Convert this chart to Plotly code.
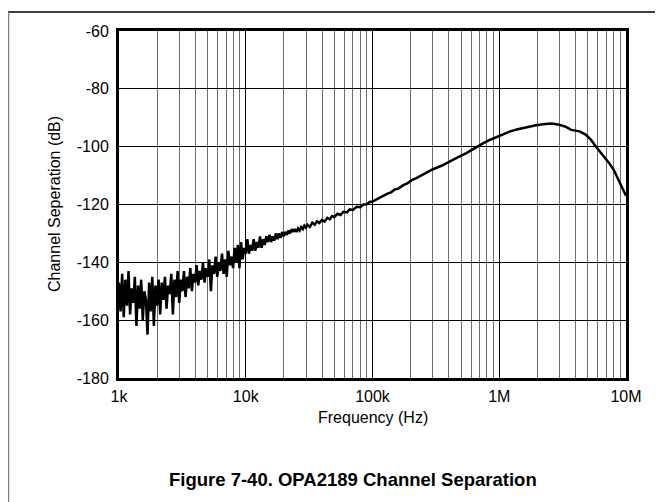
import plotly.graph_objects as go

# Channel separation vs frequency
freq_hz = [
    1000, 1029, 1059, 1090, 1122, 1155, 1189, 1223, 1259, 1296,
    1334, 1372, 1413, 1454, 1496, 1540, 1585, 1631, 1679, 1728,
    1778, 1830, 1884, 1939, 1995, 2054, 2113, 2175, 2239, 2304,
    2371, 2441, 2512, 2585, 2661, 2738, 2818, 2901, 2985, 3073,
    3162, 3255, 3350, 3447, 3548, 3652, 3758, 3868, 3981, 4097,
    4217, 4340, 4467, 4597, 4732, 4870, 5012, 5158, 5309, 5464,
    5623, 5788, 5957, 6131, 6310, 6494, 6683, 6879, 7079, 7286,
    7499, 7718, 7943, 8175, 8414, 8660, 8913, 9173, 9441, 9716,
    10000, 10292, 10593, 10902, 11220, 11548, 11885, 12232, 12589, 12957,
    13335, 13725, 14125, 14538, 14962, 15399, 15849, 16312, 16788, 17278,
    17783, 18302, 18836, 19387, 19953, 20535, 21135, 21752, 22387, 23041,
    23714, 24406, 25119, 25852, 26607, 27384, 28184, 29007, 29854, 30726,
    32000, 33500, 35000, 36500, 38000, 40000, 42000, 44000, 46000, 48000,
    50000, 53000, 56000, 59000, 63000, 66000, 70000, 75000, 80000, 85000,
    90000, 95000, 100000, 110000, 120000, 130000, 140000, 150000, 160000, 175000,
    190000, 205000, 220000, 260000, 300000, 350000, 400000, 470000,
    550000, 650000, 750000, 850000, 960000, 1100000, 1220000, 1400000, 1600000, 1950000,
    2300000, 2600000, 2900000, 3300000, 3700000, 4000000, 4300000, 4800000, 5300000, 5700000,
    6200000, 6800000, 7400000, 8000000, 8700000, 9300000, 10000000,
]
sep_db = [
    -147, -157, -144, -159, -146, -155, -143, -158, -149, -154,
    -145, -162, -148, -156, -146, -160, -150, -153, -165, -147,
    -157, -145, -162, -148, -155, -146, -158, -147, -153, -145,
    -156, -148, -151, -144, -158, -146, -152, -143, -154, -146,
    -150, -143, -152, -145, -149, -142, -150, -144, -147, -141,
    -148, -143, -146, -140, -147, -142, -145, -139, -150, -141,
    -144, -138, -145, -140, -143, -137, -144, -139, -145, -136,
    -141, -138, -142, -135, -140, -134, -142, -133, -139, -135,
    -137, -132, -137, -134, -136, -132, -136, -133, -135, -131,
    -135, -132, -134, -131, -133, -130.5, -133, -131, -132.5, -130,
    -132, -130, -131.5, -129.5, -131, -129.5, -130.5, -129, -130, -128.5,
    -129.5, -128.5, -129.5, -128.3, -129, -127.8, -128.5, -127.3, -128, -127,
    -127.8, -126.3, -127, -125.8, -126.4, -125.3, -125.9, -124.6, -125.1, -124,
    -124.4, -123.2, -123.6, -122.5, -122.7, -121.7, -121.9, -120.8, -120.9, -120,
    -119.9, -119.1, -119, -118, -117.3, -116.3, -115.8, -114.8, -114.5, -113.3,
    -112.6, -111.5, -111, -109.2, -107.8, -106.6, -105.4, -103.7,
    -102.2, -100.3, -98.8, -97.6, -96.6, -95.5, -94.7, -94, -93.4, -92.6,
    -92.2, -92, -92.3, -93, -94.2, -94.5, -94.7, -95.8, -97.6, -99.6,
    -101.5, -103.6, -105.8, -108, -111.5, -114, -117,
]

x_ticks = [1e3, 1e4, 1e5, 1e6, 1e7]
x_labels = ["1k", "10k", "100k", "1M", "10M"]
y_ticks = [-180, -160, -140, -120, -100, -80, -60]
y_labels = ["-180", "-160", "-140", "-120", "-100", "-80", "-60"]

W, H = 663, 502
L, R, T, B = 111, 45, 23, 132
pw, ph = W - L - R, H - T - B

FONT = "Liberation Sans, Arial, sans-serif"

fig = go.Figure()
fig.add_trace(go.Scatter(
    x=freq_hz, y=sep_db, mode="lines",
    line=dict(color="black", width=2.5),
    showlegend=False,
))

minor_vals = [m * d for d in x_ticks[:-1] for m in range(2, 10)]

fig.update_xaxes(
    type="log", range=[3, 7],
    tickvals=x_ticks, ticktext=x_labels,
    showgrid=True, gridcolor="black", gridwidth=1,
    minor=dict(tickvals=minor_vals, showgrid=True, gridcolor="#6e6e6e", gridwidth=1, ticks=""),
    showline=True, linecolor="black", linewidth=3, mirror=True,
    ticks="", ticklabelstandoff=2,
    tickfont=dict(size=16, color="black"),
    zeroline=False,
)
fig.update_yaxes(
    range=[-180, -60], tickvals=y_ticks, ticktext=y_labels,
    showgrid=True, gridcolor="black", gridwidth=1,
    showline=True, linecolor="black", linewidth=3, mirror=True,
    ticks="", ticklabelstandoff=4,
    tickfont=dict(size=16, color="black"),
    zeroline=False,
)

# axis titles and figure caption
fig.add_annotation(
    text="Frequency (Hz)", xref="paper", yref="paper",
    x=0.5, y=-(420 - (T + ph)) / ph, showarrow=False,
    font=dict(size=16, color="black"),
)
fig.add_annotation(
    text="Channel Seperation (dB)", xref="paper", yref="paper",
    x=-(L - 36) / pw, y=0.5, textangle=-90, showarrow=False,
    font=dict(size=16, color="black"),
)
fig.add_annotation(
    text="<b>Figure 7-40. OPA2189 Channel Separation</b>", xref="paper", yref="paper",
    x=(345 - L) / pw, y=-(484 - (T + ph)) / ph, showarrow=False,
    font=dict(size=18.5, color="black"),
)

# page frame: top rule and left rule
fig.add_shape(type="line", xref="paper", yref="paper",
              x0=-L / pw, x1=(W - L) / pw, y0=1 + (T - 4) / ph, y1=1 + (T - 4) / ph,
              line=dict(color="black", width=1.5))
fig.add_shape(type="line", xref="paper", yref="paper",
              x0=-(L - 0.5) / pw, x1=-(L - 0.5) / pw, y0=1 + (T - 4) / ph, y1=-B / ph,
              line=dict(color="#808080", width=1.5))

fig.update_layout(
    width=W, height=H,
    margin=dict(l=L, r=R, t=T, b=B),
    paper_bgcolor="white", plot_bgcolor="white",
    font=dict(family=FONT, color="black"),
)

fig.write_html("out.html")
